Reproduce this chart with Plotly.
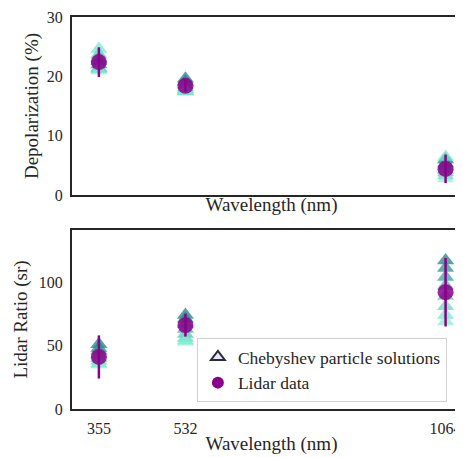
import plotly.graph_objects as go

wavelengths = [355, 532, 1064]

# Chebyshev particle solutions (each row one solution): depolarization (%) and lidar ratio (sr)
cheb_depol = [
    [22.6, 19.6, 6.0],
    [22.0, 19.1, 5.3],
    [23.0, 18.6, 4.8],
    [21.4, 18.1, 4.2],
    [23.7, 17.8, 3.8],
    [21.2, 17.5, 3.3],
    [24.6, 17.4, 6.4],
    [21.0, 17.6, 2.8],
]
cheb_lr = [
    [51, 74, 117],
    [48, 71, 111],
    [46, 67, 104],
    [43, 63, 97],
    [40, 59, 89],
    [38, 56, 81],
    [36, 54, 74],
    [35, 53, 69],
]
cheb_colors = ["#137a7a", "#1f8c88", "#2a9d94", "#38b0a0", "#4cc4b0", "#5fd6bd", "#70e6c8", "#7fefd0"]

lidar_depol = [22.4, 18.4, 4.4]
lidar_depol_err = [2.5, 1.0, 2.4]
lidar_lr = [41, 66, 92]
lidar_lr_err = [17, 9, 27]

x_ticks = [355, 532, 1064]
depol_ticks = [0, 10, 20, 30]
lr_ticks = [0, 50, 100]

purple = "#8b008b"
font_family = "Liberation Serif, Times New Roman, serif"

fig = go.Figure()

for depol, lr, col in zip(cheb_depol, cheb_lr, cheb_colors):
    fig.add_trace(go.Scatter(x=wavelengths, y=depol, mode="markers", xaxis="x", yaxis="y",
                             marker=dict(symbol="triangle-up", size=15, color=col, opacity=0.7, line=dict(width=0)),
                             showlegend=False, hoverinfo="skip"))
    fig.add_trace(go.Scatter(x=wavelengths, y=lr, mode="markers", xaxis="x2", yaxis="y2",
                             marker=dict(symbol="triangle-up", size=15, color=col, opacity=0.7, line=dict(width=0)),
                             showlegend=False, hoverinfo="skip"))

fig.add_trace(go.Scatter(x=wavelengths, y=lidar_depol, mode="markers", xaxis="x", yaxis="y",
                         error_y=dict(type="data", array=lidar_depol_err, color=purple, thickness=2.5, width=0),
                         marker=dict(symbol="circle", size=16, color=purple, opacity=0.85),
                         showlegend=False))
fig.add_trace(go.Scatter(x=wavelengths, y=lidar_lr, mode="markers", xaxis="x2", yaxis="y2",
                         error_y=dict(type="data", array=lidar_lr_err, color=purple, thickness=2.5, width=0),
                         marker=dict(symbol="circle", size=16, color=purple, opacity=0.85),
                         showlegend=False))

# legend entries
fig.add_trace(go.Scatter(x=[None], y=[None], mode="markers", xaxis="x2", yaxis="y2",
                         name="Chebyshev particle solutions",
                         marker=dict(symbol="triangle-up", size=14, color="#e6e6fa", line=dict(color="#2a2a3a", width=1.5))))
fig.add_trace(go.Scatter(x=[None], y=[None], mode="markers", xaxis="x2", yaxis="y2",
                         name="Lidar data",
                         marker=dict(symbol="circle", size=15, color=purple)))

axis_line = dict(showline=True, linecolor="#262626", linewidth=2, showgrid=False, zeroline=False,
                 ticks="", automargin=False, ticklabelstandoff=4,
                 tickfont=dict(family=font_family, size=16, color="#262626"))

H = 457.0
title_font = dict(family=font_family, size=19, color="#262626")
fig.update_layout(
    width=463, height=457,
    margin=dict(l=64, r=0, t=0, b=0),
    paper_bgcolor="white", plot_bgcolor="white",
    font=dict(family=font_family, color="#262626"),
    xaxis=dict(**axis_line, range=[300, 1116], domain=[0, 1], anchor="y", mirror=True,
               showticklabels=False, tickvals=x_ticks,
               title=dict(text="Wavelength (nm)", font=title_font, standoff=2)),
    yaxis=dict(**axis_line, range=[0, 30], domain=[(H - 187) / H, (H - 9) / H], anchor="x",
               tickvals=depol_ticks,
               title=dict(text="Depolarization (%)", font=title_font, standoff=3)),
    xaxis2=dict(**axis_line, range=[300, 1116], domain=[0, 1], anchor="y2", mirror=True,
                tickvals=x_ticks,
                title=dict(text="Wavelength (nm)", font=title_font, standoff=0)),
    yaxis2=dict(**axis_line, range=[0, 141], domain=[(H - 401) / H, (H - 222) / H], anchor="x2",
                tickvals=lr_ticks,
                title=dict(text="Lidar Ratio (sr)", font=title_font, standoff=6)),
    legend=dict(x=0.313, y=(H - 394) / H, xanchor="left", yanchor="bottom",
                bgcolor="white", bordercolor="#d0d0d0", borderwidth=1,
                font=dict(family=font_family, size=17.5, color="#262626"),
                itemsizing="constant", tracegroupgap=0),
)

fig.write_html("out.html")
